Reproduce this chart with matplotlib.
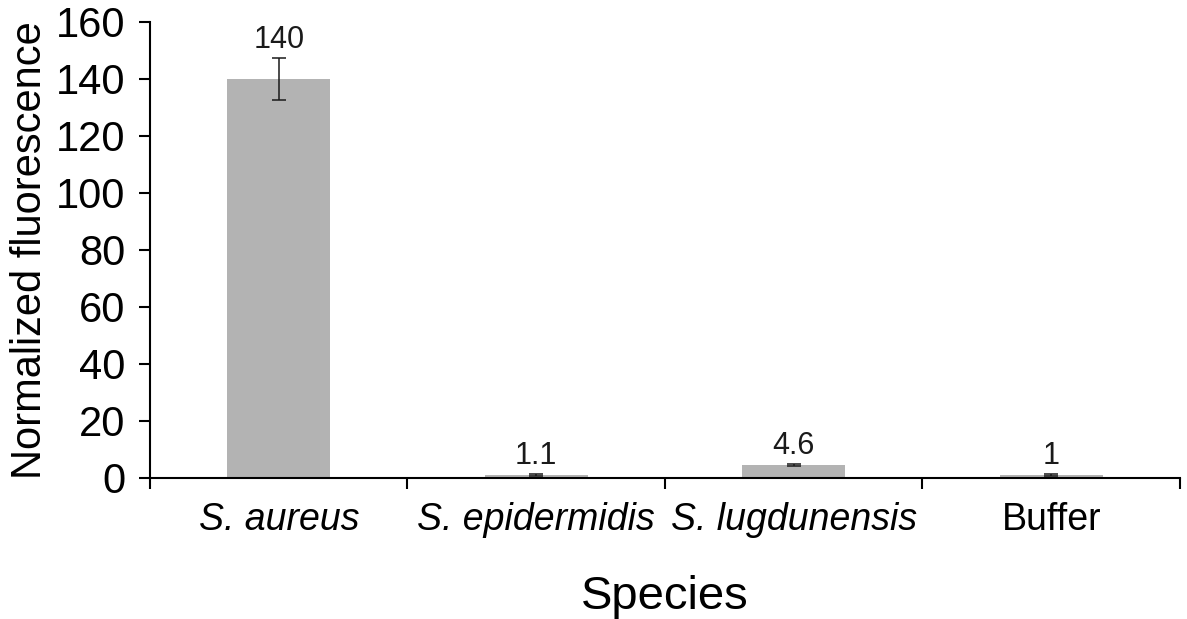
import numpy as np
import matplotlib.pyplot as plt

plt.rcParams.update({
    "font.family": ["Liberation Sans", "DejaVu Sans"],
    "axes.linewidth": 1.5,
})

species = ["S. aureus", "S. epidermidis", "S. lugdunensis", "Buffer"]
italic = [True, True, True, False]
values = [140, 1.1, 4.6, 1.0]
errors = [7.3, 0.4, 0.4, 0.3]
labels = ["140", "1.1", "4.6", "1"]

fig = plt.figure(figsize=(11.87, 6.19), dpi=100)
ax = fig.add_axes([0.1264, 0.2278, 0.8676, 0.7367])

x = np.arange(len(species))
ax.bar(x, values, width=0.4, color="#b3b3b3", zorder=2)
ax.errorbar(x, values, yerr=errors, fmt="none", ecolor="#1a1a1a",
            elinewidth=1.1, capsize=5, capthick=1.1, zorder=3)

for xi, v, e, t in zip(x, values, errors, labels):
    ax.text(xi, v + e + 1, t, ha="center", va="bottom", fontsize=22, color="#1a1a1a")

ax.set_xlim(-0.5, 3.5)
ax.set_ylim(0, 160)
ax.set_yticks(np.arange(0, 161, 20))
ax.tick_params(axis="y", labelsize=30, length=8, width=1.5, direction="out", pad=10)

ax.set_xticks(np.arange(-0.5, 3.6, 1))
ax.set_xticklabels([])
ax.tick_params(axis="x", which="major", length=8, width=1.5, direction="out")
ax.set_xticks(x, minor=True)
ax.set_xticklabels(species, minor=True)
ax.tick_params(axis="x", which="minor", length=0, labelsize=27, pad=17)
for lbl, it in zip(ax.get_xticklabels(minor=True), italic):
    if it:
        lbl.set_fontstyle("italic")

ax.spines["top"].set_visible(False)
ax.spines["right"].set_visible(False)

ax.set_ylabel("Normalized fluorescence", fontsize=30, labelpad=4)
ax.set_xlabel("Species", fontsize=34, labelpad=27)

fig.savefig("out.png", dpi=100)
